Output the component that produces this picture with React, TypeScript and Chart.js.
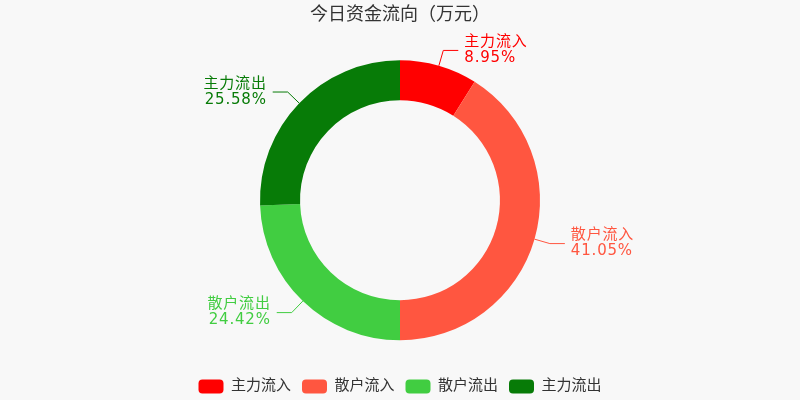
import { useEffect, useRef } from 'react'
import { Chart, registerables } from 'chart.js'

Chart.register(...registerables)

const title = '今日资金流向（万元）'
const categories = ['主力流入', '散户流入', '散户流出', '主力流出']
const shares = [8.95, 41.05, 24.42, 25.58]
const colors = ['#ff0000', '#ff5640', '#41cd41', '#077b07']

const FONT = '"DejaVu Sans", "Noto Sans CJK SC", sans-serif'

// draws the outside labels with their leader lines
const outsideLabels = {
  id: 'outsideLabels',
  afterDatasetsDraw(chart: any) {
    const { ctx } = chart
    const meta = chart.getDatasetMeta(0)
    const data = chart.data.datasets[0].data as number[]
    const total = data.reduce((a, b) => a + b, 0)
    ctx.save()
    ctx.font = `15px ${FONT}`
    ctx.letterSpacing = '0.8px'
    ctx.lineWidth = 1
    meta.data.forEach((arc: any, i: number) => {
      const { x, y, startAngle, endAngle, outerRadius } = arc.getProps(
        ['x', 'y', 'startAngle', 'endAngle', 'outerRadius'], true)
      const mid = (startAngle + endAngle) / 2
      const cos = Math.cos(mid)
      const sin = Math.sin(mid)
      const x0 = x + outerRadius * cos
      const y0 = y + outerRadius * sin
      const x1 = x + (outerRadius + 16) * cos
      const y1 = y + (outerRadius + 16) * sin
      const right = cos >= 0
      const x2 = x1 + (right ? 15 : -15)
      const color = colors[i]
      ctx.strokeStyle = color
      ctx.beginPath()
      ctx.moveTo(x0, y0)
      ctx.lineTo(x1, y1)
      ctx.lineTo(x2, y1)
      ctx.stroke()
      ctx.fillStyle = color
      ctx.textAlign = right ? 'left' : 'right'
      ctx.textBaseline = 'middle'
      const tx = x2 + (right ? 6 : -6)
      ctx.fillText(chart.data.labels[i], tx, y1 - 8)
      ctx.fillText(((data[i] / total) * 100).toFixed(2) + '%', tx, y1 + 8)
    })
    ctx.restore()
  },
}

function DoughnutChart() {
  const ref = useRef<HTMLCanvasElement>(null)

  useEffect(() => {
    if (!ref.current) return
    const chart = new Chart(ref.current, {
      type: 'doughnut',
      data: {
        labels: categories,
        datasets: [
          {
            data: shares,
            backgroundColor: colors,
            borderWidth: 0,
            hoverOffset: 0,
          },
        ],
      },
      options: {
        animation: false,
        responsive: false,
        radius: 140,
        cutout: '71.4%',
        layout: { padding: { top: 0, bottom: -4 } },
        plugins: {
          title: {
            display: true,
            text: title,
            color: '#333',
            font: { family: FONT, size: 18, weight: 'normal' },
            padding: { top: 5, bottom: 6 },
          },
          legend: {
            position: 'bottom',
            labels: {
              color: '#333',
              font: { family: FONT, size: 15 },
              boxWidth: 25,
              boxHeight: 14,
              padding: 11,
              useBorderRadius: true,
              borderRadius: 4,
            },
          },
          tooltip: { enabled: false },
        },
      },
      plugins: [outsideLabels],
    })
    return () => chart.destroy()
  }, [])

  return <canvas ref={ref} width={800} height={400} />
}

export default function App() {
  return (
    <div style={{ position: 'fixed', left: 0, top: 0, width: 800, height: 400, background: '#f8f8f8' }}>
      <DoughnutChart />
    </div>
  )
}
